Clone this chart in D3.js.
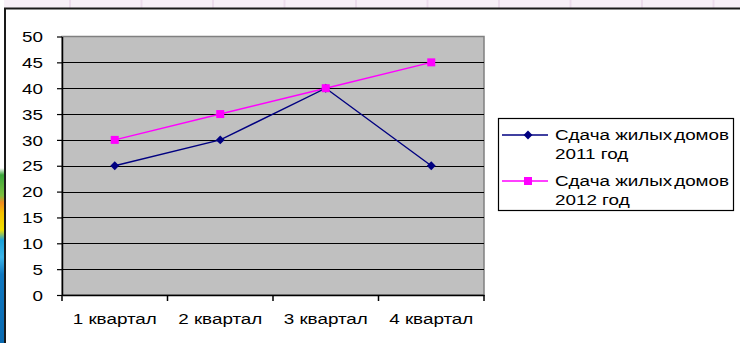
<!DOCTYPE html>
<html>
<head>
<meta charset="utf-8">
<script src="https://cdn.jsdelivr.net/npm/d3@7"></script>
<style>
  html, body { margin: 0; padding: 0; background: #fff; }
  svg { display: block; }
  text { font-family: "Liberation Sans", Arial, sans-serif; font-size: 14.5px; fill: #000; }
</style>
</head>
<body>
<svg id="chart" width="740" height="343"></svg>
<script>
// Quarterly housing completions
const quarters = ["1 квартал", "2 квартал", "3 квартал", "4 квартал"];
const values2011 = [25, 30, 40, 25];
const values2012 = [30, 35, 40, 45];
const seriesNames = ["Сдача жилых домов 2011 год", "Сдача жилых домов 2012 год"];
const yTicks = [0, 5, 10, 15, 20, 25, 30, 35, 40, 45, 50];

const W = 740, H = 343;
const plot = { left: 62, right: 484, top: 36.5, bottom: 295 };
const textStretch = 1.3;

const svg = d3.select("#chart");

// worksheet strip along the top edge
svg.append("rect").attr("x", 0).attr("y", 0).attr("width", W).attr("height", 8)
  .attr("fill", "#f7eff7");
svg.append("g").selectAll("line").data(d3.range(70, W, 71.5)).join("line")
  .attr("x1", d => d).attr("x2", d => d).attr("y1", 0).attr("y2", 8)
  .attr("stroke", "#ecdcec").attr("stroke-width", 2);

// coloured strip along the left edge
const grad = svg.append("defs").append("linearGradient")
  .attr("id", "sideStrip").attr("x1", 0).attr("x2", 0).attr("y1", 0).attr("y2", 1);
[[0, "#ffffff"], [0.49, "#ffffff"], [0.51, "#3aa63a"], [0.57, "#7cc040"], [0.59, "#f08a20"],
 [0.62, "#f5c000"], [0.67, "#f0e000"], [0.70, "#1aa0d8"], [0.75, "#3cb4e8"], [0.8, "#1078c0"], [1, "#0a6ab0"]]
  .forEach(([o, c]) => grad.append("stop").attr("offset", o).attr("stop-color", c));
svg.append("rect").attr("x", 0).attr("y", 0).attr("width", 4).attr("height", H)
  .attr("fill", "url(#sideStrip)");

// chart frame
svg.append("line").attr("x1", 4).attr("x2", W).attr("y1", 8.5).attr("y2", 8.5)
  .attr("stroke", "#1a1a1a").attr("stroke-width", 2);
svg.append("line").attr("x1", 5).attr("x2", 5).attr("y1", 8).attr("y2", H)
  .attr("stroke", "#1a1a1a").attr("stroke-width", 2);

const x = d3.scaleBand().domain(quarters).range([plot.left, plot.right]).padding(0);
const y = d3.scaleLinear().domain([0, 50]).range([plot.bottom, plot.top]);

// plot area
svg.append("rect")
  .attr("x", plot.left).attr("y", plot.top)
  .attr("width", plot.right - plot.left).attr("height", plot.bottom - plot.top)
  .attr("fill", "#c0c0c0").attr("stroke", "#808080").attr("stroke-width", 1.5);

// gridlines
svg.append("g").selectAll("line").data(yTicks.filter(v => v > 0 && v < 50)).join("line")
  .attr("x1", plot.left).attr("x2", plot.right)
  .attr("y1", d => Math.round(y(d)) + 0.5).attr("y2", d => Math.round(y(d)) + 0.5)
  .attr("stroke", "#000").attr("stroke-width", 1.2);

// y axis
const yAxis = svg.append("g").attr("transform", `translate(${plot.left},0)`)
  .call(d3.axisLeft(y).tickValues(yTicks).tickSize(5).tickPadding(0).tickSizeOuter(0));
yAxis.select(".domain").attr("stroke", "#000").attr("stroke-width", 1.5);
yAxis.selectAll(".tick line").attr("stroke", "#000").attr("stroke-width", 1.2);
yAxis.selectAll(".tick text").remove();
yAxis.selectAll(".tick").append("g")
  .attr("transform", `translate(-19,0) scale(${textStretch},1)`)
  .append("text").attr("text-anchor", "end").attr("dy", "0.36em")
  .text(d => d);

// x axis
const xAxis = svg.append("g").attr("transform", `translate(0,${plot.bottom})`)
  .call(d3.axisBottom(x).tickSize(0).tickSizeOuter(0));
xAxis.select(".domain").attr("stroke", "#000").attr("stroke-width", 1.5);
xAxis.selectAll(".tick text").remove();
svg.append("g").selectAll("line").data(d3.range(quarters.length + 1)).join("line")
  .attr("x1", i => plot.left + i * x.step()).attr("x2", i => plot.left + i * x.step())
  .attr("y1", plot.bottom).attr("y2", plot.bottom + 6)
  .attr("stroke", "#000").attr("stroke-width", 1.5);
svg.append("g").selectAll("g").data(quarters).join("g")
  .attr("transform", d => `translate(${x(d) + x.bandwidth() / 2},${plot.bottom + 29}) scale(${textStretch},1)`)
  .append("text").attr("text-anchor", "middle").text(d => d);

// series
const cx = d => x(d) + x.bandwidth() / 2;
const line = d3.line().x((v, i) => cx(quarters[i])).y(v => y(v));

svg.append("path").datum(values2012).attr("d", line)
  .attr("fill", "none").attr("stroke", "#ff00ff").attr("stroke-width", 1.4);
svg.append("path").datum(values2011).attr("d", line)
  .attr("fill", "none").attr("stroke", "#000080").attr("stroke-width", 1.4);

const diamond = d3.symbol().type(d3.symbolDiamond2).size(50);
const square = d3.symbol().type(d3.symbolSquare).size(64);

svg.append("g").selectAll("path").data(values2011).join("path")
  .attr("d", diamond)
  .attr("transform", (v, i) => `translate(${cx(quarters[i])},${y(v)})`)
  .attr("fill", "#000080");
svg.append("g").selectAll("path").data(values2012).join("path")
  .attr("d", square)
  .attr("transform", (v, i) => `translate(${cx(quarters[i])},${y(v)})`)
  .attr("fill", "#ff00ff");

// legend
const legend = svg.append("g");
legend.append("rect").attr("x", 498.5).attr("y", 118.5).attr("width", 235).attr("height", 92)
  .attr("fill", "#fff").attr("stroke", "#000").attr("stroke-width", 1.2);

const legendItems = [
  { name: seriesNames[0], color: "#000080", symbol: diamond, ly: 135 },
  { name: seriesNames[1], color: "#ff00ff", symbol: square, ly: 181 }
];
legendItems.forEach(item => {
  legend.append("line").attr("x1", 502).attr("x2", 548).attr("y1", item.ly).attr("y2", item.ly)
    .attr("stroke", item.color).attr("stroke-width", 1.4);
  legend.append("path").attr("d", item.symbol)
    .attr("transform", `translate(528,${item.ly})`).attr("fill", item.color);
  const words = item.name.split(" ");
  // first line: "Сдача жилых" then a tightly kerned "домов"
  const t1 = legend.append("g")
    .attr("transform", `translate(555,${item.ly + 5}) scale(${textStretch},1)`)
    .append("text");
  t1.append("tspan").text(words[0] + " " + words[1]);
  t1.append("tspan").attr("dx", 1.5).text(words[2]);
  legend.append("g")
    .attr("transform", `translate(555,${item.ly + 24}) scale(${textStretch},1)`)
    .append("text").text(words.slice(3).join(" "));
});
</script>
</body>
</html>
